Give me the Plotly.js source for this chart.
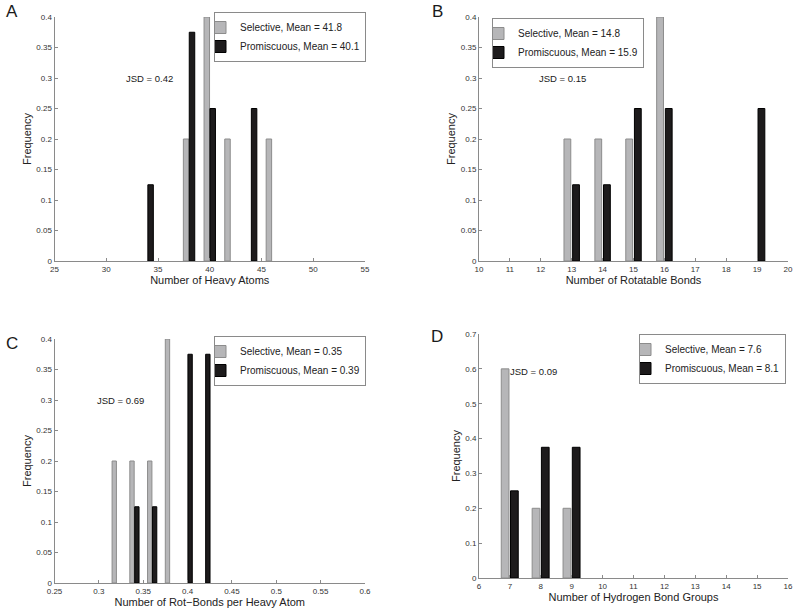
<!DOCTYPE html>
<html>
<head>
<meta charset="utf-8">
<script src="https://cdn.plot.ly/plotly-3.0.1.min.js"></script>
<style>html,body{margin:0;padding:0;background:#fff;}#chart{width:800px;height:615px;}</style>
</head>
<body>
<div id="chart"></div>
<script>
// Panel A: Number of Heavy Atoms
const selBinsA = [38, 40, 42, 46];
const selA     = [0.2, 0.4, 0.2, 0.2];
const proBinsA = [34, 38, 40, 44];
const proA     = [0.125, 0.375, 0.25, 0.25];
// Panel B: Number of Rotatable Bonds
const selBinsB = [13, 14, 15, 16];
const selB     = [0.2, 0.2, 0.2, 0.4];
const proBinsB = [13, 14, 15, 16, 19];
const proB     = [0.125, 0.125, 0.25, 0.25, 0.25];
// Panel C: Rot-Bonds per Heavy Atom
const selBinsC = [0.32, 0.34, 0.36, 0.38];
const selC     = [0.2, 0.2, 0.2, 0.4];
const proBinsC = [0.34, 0.36, 0.40, 0.42];
const proC     = [0.125, 0.125, 0.375, 0.375];
// Panel D: Hydrogen Bond Groups
const selBinsD = [7, 8, 9];
const selD     = [0.6, 0.2, 0.2];
const proBinsD = [7, 8, 9];
const proD     = [0.25, 0.375, 0.375];

const selNames = ['Selective, Mean = 41.8', 'Selective, Mean = 14.8', 'Selective, Mean = 0.35', 'Selective, Mean = 7.6'];
const proNames = ['Promiscuous, Mean = 40.1', 'Promiscuous, Mean = 15.9', 'Promiscuous, Mean = 0.39', 'Promiscuous, Mean = 8.1'];
const jsd = ['JSD = 0.42', 'JSD = 0.15', 'JSD = 0.69', 'JSD = 0.09'];
const xTitles = ['Number of Heavy Atoms', 'Number of Rotatable Bonds', 'Number of Rot\u2212Bonds per Heavy Atom', 'Number of Hydrogen Bond Groups'];
const letters = ['A', 'B', 'C', 'D'];

const GRAY = '#b6b6b8', GRAYLINE = '#8c8c8c', BLACK = '#1d1b1c';
const FONT = 'Liberation Sans, Arial, sans-serif';

const panels = [
  {sb: selBinsA, sel: selA, pb: proBinsA, pro: proA, gw: 0.53, go: -0.55, bo: 0.02},
  {sb: selBinsB, sel: selB, pb: proBinsB, pro: proB, gw: 0.22, go: -0.25, bo: 0.03},
  {sb: selBinsC, sel: selC, pb: proBinsC, pro: proC, gw: 0.0049, go: -0.0051, bo: 0.0004},
  {sb: selBinsD, sel: selD, pb: proBinsD, pro: proD, gw: 0.25, go: -0.28, bo: 0.02}
];

const data = [];
panels.forEach((p, i) => {
  const ax = i === 0 ? '' : String(i + 1);
  const lg = i === 0 ? 'legend' : 'legend' + (i + 1);
  data.push({type: 'bar', x: p.sb, y: p.sel, name: selNames[i], xaxis: 'x' + ax, yaxis: 'y' + ax,
    width: p.gw, offset: p.go, marker: {color: GRAY, line: {color: GRAYLINE, width: 1}}, legend: lg, hoverinfo: 'x+y'});
  data.push({type: 'bar', x: p.pb, y: p.pro, name: proNames[i], xaxis: 'x' + ax, yaxis: 'y' + ax,
    width: p.gw, offset: p.bo, marker: {color: BLACK, line: {color: '#000', width: 1}}, legend: lg, hoverinfo: 'x+y'});
});

const W = 800, H = 615;
const px = (a, b) => [a / W, b / W];
const py = (top, bot) => [1 - bot / H, 1 - top / H];

const axBase = {
  showline: true, linecolor: '#8a8a8a', linewidth: 1, ticks: 'inside', ticklen: 3, tickcolor: '#8a8a8a',
  showgrid: false, zeroline: false, mirror: false, tickfont: {size: 8, color: '#333', family: FONT}
};

function xa(domain, range, dtick, tick0, title, anchor) {
  return Object.assign({}, axBase, {domain, range, dtick, tick0, tickmode: 'linear', anchor,
    title: {text: title, font: {size: 11, color: '#222', family: FONT}, standoff: 0}});
}
function ya(domain, range, dtick, anchor) {
  return Object.assign({}, axBase, {domain, range, dtick, tick0: 0, tickmode: 'linear', anchor,
    title: {text: 'Frequency', font: {size: 11, color: '#222', family: FONT}, standoff: 2}});
}

const legBase = {bgcolor: 'rgba(255,255,255,0)', bordercolor: '#8a8a8a', borderwidth: 1, font: {size: 10, color: '#222', family: FONT},
  yanchor: 'top', tracegroupgap: 0, itemclick: false, itemwidth: 30, indentation: -15};

function note(text, x, y, size) {
  return {text, x: x / W, y: 1 - y / H, xref: 'paper', yref: 'paper', xanchor: 'center', yanchor: 'middle',
    showarrow: false, font: {size, color: '#1a1a1a', family: FONT}};
}

const layout = {
  width: W, height: H, margin: {l: 0, r: 0, t: 0, b: 0}, paper_bgcolor: '#fff', plot_bgcolor: 'rgba(0,0,0,0)',
  barmode: 'overlay', font: {family: FONT},
  xaxis:  xa(px(54.5, 365), [25, 55], 5, 25, xTitles[0], 'y'),
  yaxis:  ya(py(17, 261), [0, 0.4], 0.05, 'x'),
  xaxis2: xa(px(479, 788), [10, 20], 1, 10, xTitles[1], 'y2'),
  yaxis2: ya(py(17, 261), [0, 0.4], 0.05, 'x2'),
  xaxis3: xa(px(54.5, 365), [0.25, 0.6], 0.05, 0.25, xTitles[2], 'y3'),
  yaxis3: ya(py(339, 583), [0, 0.4], 0.05, 'x3'),
  xaxis4: xa(px(479, 788), [6, 16], 1, 6, xTitles[3], 'y4'),
  yaxis4: ya(py(334, 578), [0, 0.7], 0.1, 'x4'),
  legend:  Object.assign({}, legBase, {x: 366 / W, xanchor: 'right', y: 1 - 12 / H}),
  legend2: Object.assign({}, legBase, {x: 492 / W, xanchor: 'left', y: 1 - 18 / H}),
  legend3: Object.assign({}, legBase, {x: 366 / W, xanchor: 'right', y: 1 - 336 / H}),
  legend4: Object.assign({}, legBase, {x: 786 / W, xanchor: 'right', y: 1 - 334 / H}),
  annotations: [
    note(letters[0], 12, 11, 17), note(letters[1], 437, 11, 17),
    note(letters[2], 12, 343, 17), note(letters[3], 437, 336, 17),
    note(jsd[0], 149, 79, 9.5), note(jsd[1], 562, 79, 9.5),
    note(jsd[2], 120, 400, 9.5), note(jsd[3], 533, 371, 9.5)
  ]
};

Plotly.newPlot('chart', data, layout, {displayModeBar: false, staticPlot: true});
</script>
</body>
</html>
